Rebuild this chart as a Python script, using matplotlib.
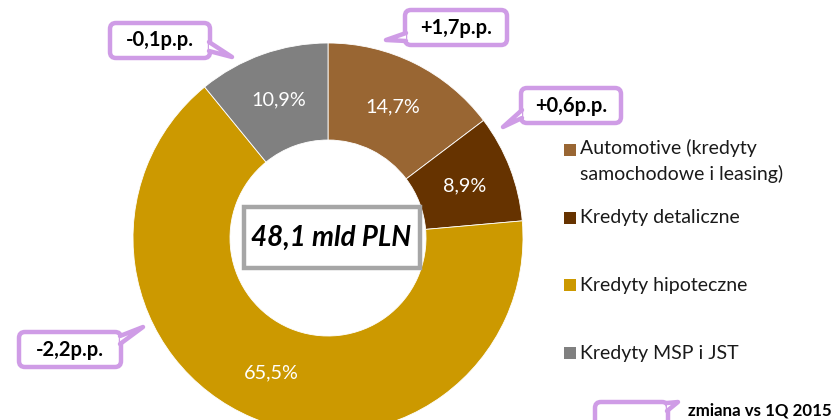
import matplotlib
matplotlib.use("Agg")
import matplotlib.pyplot as plt
from matplotlib.patches import FancyBboxPatch, Polygon, Rectangle

categories = ["Automotive (kredyty\nsamochodowe i leasing)", "Kredyty detaliczne",
              "Kredyty hipoteczne", "Kredyty MSP i JST"]
shares = [14.7, 8.9, 65.5, 10.9]
changes = ["+1,7p.p.", "+0,6p.p.", "-2,2p.p.", "-0,1p.p."]
colors = ["#996633", "#663300", "#CC9900", "#808080"]
total_label = "48,1 mld PLN"
legend_note = "zmiana vs 1Q 2015"

W, H = 834, 420
plt.rcParams['font.family'] = ['Lato', 'DejaVu Sans']
fig = plt.figure(figsize=(W / 100, H / 100), dpi=100)
ax = fig.add_axes([0, 0, 1, 1])

def Y(py):
    return H - py

cx, cy, R, w = 328, 238, 195, 97
wedges, _, autotexts = ax.pie(
    shares, center=(cx, Y(cy)), radius=R, startangle=90, counterclock=False,
    colors=colors, autopct=lambda p: f"{p:.1f}%".replace(".", ","), pctdistance=0.75,
    wedgeprops=dict(width=w, edgecolor="white", linewidth=0.6),
    textprops=dict(color="white", fontsize=14.3))
ax.set_xlim(0, W)
ax.set_ylim(0, H)
ax.set_aspect("auto")
ax.axis("off")

# center box
ax.add_patch(Rectangle((244, Y(268)), 176, 61, facecolor="white", edgecolor="#A6A6A6",
                       linewidth=3.2, zorder=5))
ax.text(331, Y(238), total_label, fontsize=20, fontweight="bold", fontstyle="italic",
        ha="center", va="center", zorder=6, color="black")

purple = "#CF9CE6"

def callout(x0, y0, x1, y1, base1, base2, tip, text=None):
    box = FancyBboxPatch((x0 + 5, Y(y1) + 5), (x1 - x0) - 10, (y1 - y0) - 10,
                         boxstyle="round,pad=5,rounding_size=6",
                         facecolor="white", edgecolor=purple, linewidth=3.2, zorder=7)
    ax.add_patch(box)
    pts = [(base1[0], Y(base1[1])), (tip[0], Y(tip[1])), (base2[0], Y(base2[1]))]
    ax.add_patch(Polygon(pts, closed=True, facecolor="white", edgecolor="none", zorder=8))
    ax.plot([pts[0][0], pts[1][0], pts[2][0]], [pts[0][1], pts[1][1], pts[2][1]],
            color=purple, linewidth=3.2, solid_joinstyle="round", solid_capstyle="round",
            zorder=9)
    if text:
        ax.text((x0 + x1) / 2, Y((y0 + y1) / 2), text, fontsize=14.5, fontweight="bold",
                ha="center", va="center", zorder=10)

callout(405, 10, 507, 45, (406, 33), (406, 41), (386, 40), changes[0])
callout(521, 88, 621, 123, (522, 110), (522, 118), (503, 127), changes[1])
callout(19, 332, 121, 367, (120, 336), (120, 344), (143, 327), changes[2])
callout(110, 23, 210, 58, (209, 42), (209, 51), (232, 57), changes[3])
callout(595, 402, 668, 440, (667, 403), (667, 411), (678, 402), None)
ax.text(688, Y(410), legend_note, fontsize=12.2, fontweight="bold", ha="left", va="center")

# legend
leg_y = [150, 218, 285, 353]
for lbl, col, yy in zip(categories, colors, leg_y):
    ax.add_patch(Rectangle((564, Y(yy) - 6), 12, 12, facecolor=col, edgecolor="none"))
    if "\n" in lbl:
        ax.text(580, Y(yy) + 11, lbl, fontsize=14, ha="left", va="top",
                linespacing=1.5, color="#1a1a1a")
    else:
        ax.text(580, Y(yy), lbl, fontsize=14, ha="left", va="center", color="#1a1a1a")

fig.savefig("out.png", dpi=100)
